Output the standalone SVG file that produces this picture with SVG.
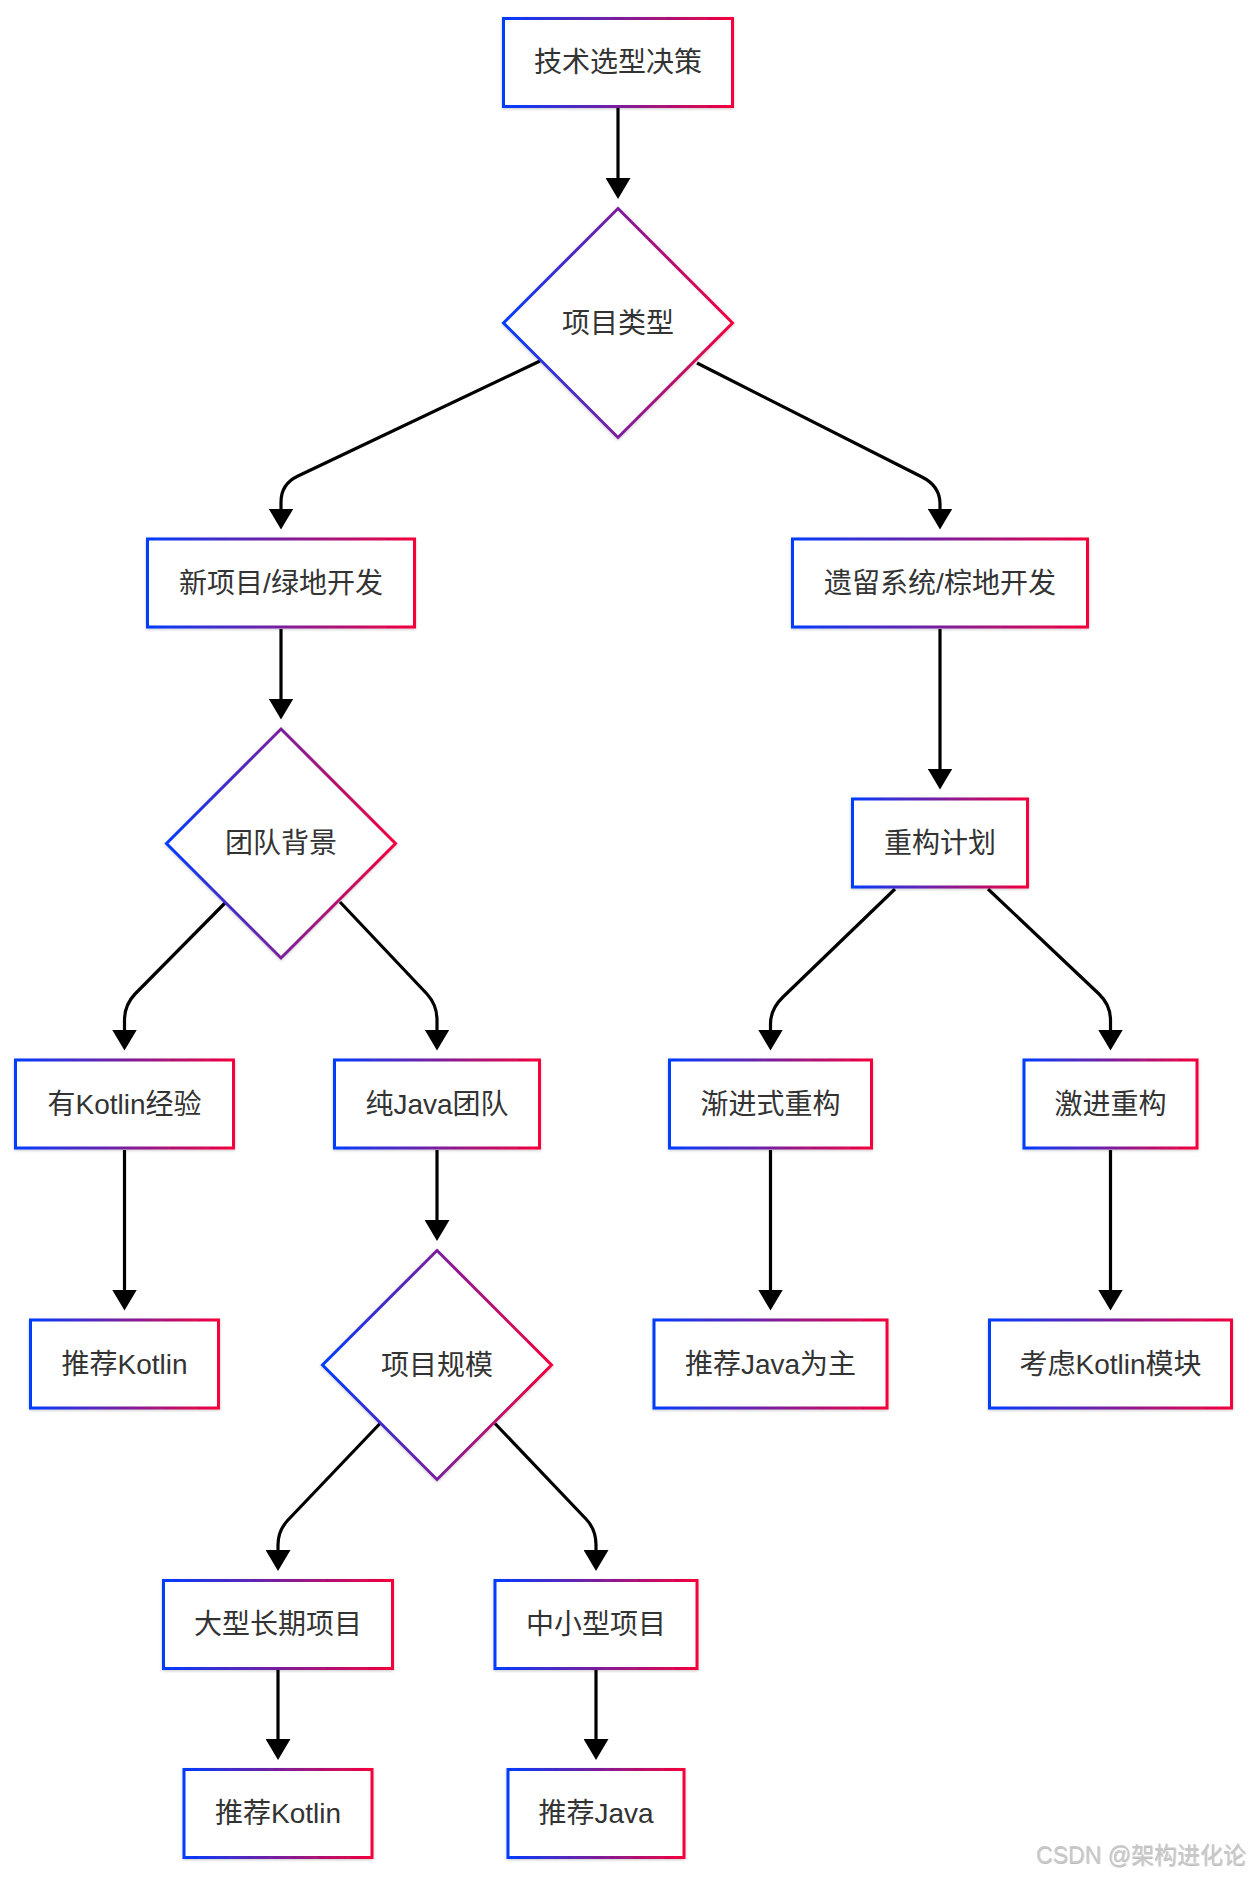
<svg xmlns="http://www.w3.org/2000/svg" width="1250" height="1878" viewBox="0 0 1250 1878">
<defs>
<linearGradient id="g" x1="0" y1="0" x2="1" y2="0">
<stop offset="0" stop-color="#003cff"/>
<stop offset="1" stop-color="#f5003c"/>
</linearGradient>
<filter id="sh" x="-10%" y="-10%" width="120%" height="130%">
<feDropShadow dx="0" dy="1" stdDeviation="1.5" flood-color="#000" flood-opacity="0.22"/>
</filter>
<filter id="wm" x="-5%" y="-20%" width="110%" height="150%">
<feDropShadow dx="0.5" dy="1" stdDeviation="0.6" flood-color="#777" flood-opacity="0.5"/>
</filter>
<marker id="ah" markerUnits="userSpaceOnUse" markerWidth="21" markerHeight="25" viewBox="0 0 21 25" refX="1" refY="12.5" orient="auto">
<path d="M0,0 L21,12.5 L0,25 z" fill="#000"/>
</marker>
<style>
.n{fill:#fff;stroke:url(#g);stroke-width:3;filter:url(#sh)}
.t{font-family:"Liberation Sans","Noto Sans CJK SC",sans-serif;font-size:28px;fill:#333;text-anchor:middle;dominant-baseline:central}
.e{fill:none;stroke:#000;stroke-width:3.2;marker-end:url(#ah)}
.w{font-family:"Liberation Sans","Noto Sans CJK SC",sans-serif;font-size:23px;fill:#c9c9c9;filter:url(#wm)}
</style>
</defs>
<rect width="1250" height="1878" fill="#fff"/>

<g id="connectors">
<path class="e" d="M618,108 L618,179"/>
<path class="e" d="M540,361 L298,476 Q281,484 281,502 L281,509.5"/>
<path class="e" d="M697,363 L922,477 Q940,486 940,504 L940,509.5"/>
<path class="e" d="M281,629 L281,699.5"/>
<path class="e" d="M940,629 L940,769.5"/>
<path class="e" d="M225,903 L135,994 Q124.5,1005 124.5,1020 L124.5,1030.5"/>
<path class="e" d="M340,902 L427,994 Q437,1005 437,1020 L437,1030.5"/>
<path class="e" d="M895,889 L783,997 Q770.5,1009 770.5,1024 L770.5,1030.5"/>
<path class="e" d="M988,889 L1099,994 Q1110.5,1005 1110.5,1020 L1110.5,1030.5"/>
<path class="e" d="M124.5,1150 L124.5,1290.5"/>
<path class="e" d="M437,1150 L437,1221"/>
<path class="e" d="M770.5,1150 L770.5,1290.5"/>
<path class="e" d="M1110.5,1150 L1110.5,1290.5"/>
<path class="e" d="M380,1423.5 L288,1520 Q278,1530.5 278,1545 L278,1551"/>
<path class="e" d="M495,1423.5 L586,1519 Q596,1529.5 596,1545 L596,1551"/>
<path class="e" d="M278,1670 L278,1740"/>
<path class="e" d="M596,1670 L596,1740"/>
</g>

<g id="n_decision">
<rect class="n" x="503.5" y="18.5" width="229" height="88"/>
<text class="t" x="618" y="62.5">技术选型决策</text>
</g>
<g id="n_projtype">
<polygon class="n" points="618,208.5 732.5,323 618,437.5 503.5,323"/>
<text class="t" x="618" y="323">项目类型</text>
</g>
<g id="n_green">
<rect class="n" x="147.5" y="539" width="267" height="88"/>
<text class="t" x="281" y="583">新项目/绿地开发</text>
</g>
<g id="n_brown">
<rect class="n" x="792.5" y="539" width="295" height="88"/>
<text class="t" x="940" y="583">遗留系统/棕地开发</text>
</g>
<g id="n_team">
<polygon class="n" points="281,729 395.5,843.5 281,958 166.5,843.5"/>
<text class="t" x="281" y="843.5">团队背景</text>
</g>
<g id="n_refactor">
<rect class="n" x="852.5" y="799" width="175" height="88"/>
<text class="t" x="940" y="843">重构计划</text>
</g>
<g id="n_kexp">
<rect class="n" x="15.5" y="1060" width="218" height="88"/>
<text class="t" x="124.5" y="1104">有Kotlin经验</text>
</g>
<g id="n_java">
<rect class="n" x="334.5" y="1060" width="205" height="88"/>
<text class="t" x="437" y="1104">纯Java团队</text>
</g>
<g id="n_incr">
<rect class="n" x="669.5" y="1060" width="202" height="88"/>
<text class="t" x="770.5" y="1104">渐进式重构</text>
</g>
<g id="n_radical">
<rect class="n" x="1024" y="1060" width="173" height="88"/>
<text class="t" x="1110.5" y="1104">激进重构</text>
</g>
<g id="n_recK1">
<rect class="n" x="30.5" y="1320" width="188" height="88"/>
<text class="t" x="124.5" y="1364">推荐Kotlin</text>
</g>
<g id="n_scale">
<polygon class="n" points="437,1250.5 551.5,1365 437,1479.5 322.5,1365"/>
<text class="t" x="437" y="1365">项目规模</text>
</g>
<g id="n_recJmain">
<rect class="n" x="654" y="1320" width="233" height="88"/>
<text class="t" x="770.5" y="1364">推荐Java为主</text>
</g>
<g id="n_kmod">
<rect class="n" x="989.5" y="1320" width="242" height="88"/>
<text class="t" x="1110.5" y="1364">考虑Kotlin模块</text>
</g>
<g id="n_large">
<rect class="n" x="163.5" y="1580.5" width="229" height="88"/>
<text class="t" x="278" y="1624.5">大型长期项目</text>
</g>
<g id="n_small">
<rect class="n" x="495" y="1580.5" width="202" height="88"/>
<text class="t" x="596" y="1624.5">中小型项目</text>
</g>
<g id="n_recK2">
<rect class="n" x="184" y="1769.5" width="188" height="88"/>
<text class="t" x="278" y="1813.5">推荐Kotlin</text>
</g>
<g id="n_recJ">
<rect class="n" x="508" y="1769.5" width="176" height="88"/>
<text class="t" x="596" y="1813.5">推荐Java</text>
</g>

<text class="w" x="1246" y="1863" text-anchor="end">CSDN @架构进化论</text>
</svg>
